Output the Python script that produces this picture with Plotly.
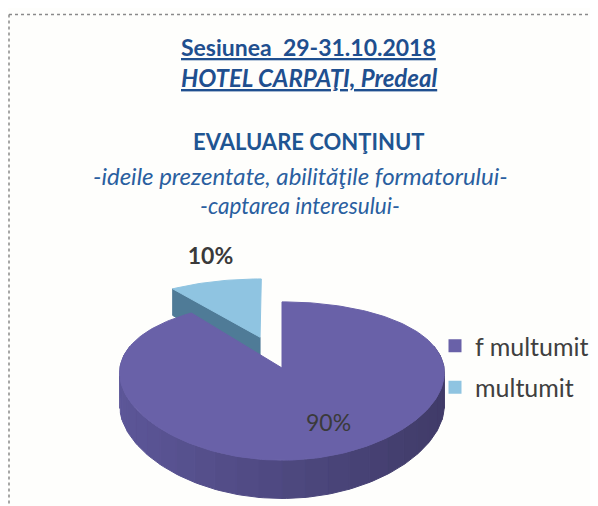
import numpy as np
import plotly.graph_objects as go

# ---------------- data ----------------
labels = ["f multumit", "multumit"]
values = [90, 10]

title_lines = [
    "Sesiunea  29-31.10.2018",
    "HOTEL CARPAŢI, Predeal",
    "EVALUARE CONŢINUT",
    "-ideile prezentate, abilităţile formatorului-",
    "-captarea interesului-",
]

# ---------------- style / geometry ----------------
W, H = 598, 506
OFF = 8  # page body margin of the browser
CX, CY, RX, RY, DEPTH = 282, 368, 162, 77, 32
DX_PERSP, DY_PERSP = 16.0, 6.08
EXPLODE = [0.0, 0.45]
TOP_COLORS = ["#6961a8", "#8fc4e1"]
SIDE_LIGHT = [(92, 86, 152), (86, 130, 160)]
SIDE_DARK = [(64, 59, 104), (74, 112, 140)]
CUT_COLORS = ["#4e4a86", "#4f7b97"]
LABEL_R = [0.70, 1.45]
LABEL_SHIFT = [(10, 0), (14, -2)]
FONT = "Lato"
BLUE = "#1f4f8f"
BG = "#fefefc"

total = float(sum(values))
fracs = [v / total for v in values]
bounds = np.concatenate([[0.0], np.cumsum(fracs)]) * 2 * np.pi

fig = go.Figure()


def proj(u, v, z=0.0):
    """project a point of the unit pie (u right, v toward viewer) to the page"""
    sx = DX_PERSP / (DX_PERSP - v)
    sy = DY_PERSP / (DY_PERSP - v)
    return CX + RX * u * sx, CY + RY * v * sy + z * sy


def pt(theta, eu, ev, r=1.0, z=0.0):
    u = eu + r * np.sin(theta)
    v = ev - r * np.cos(theta)
    return proj(u, v, z)


def rgb(c):
    return "rgb(%d,%d,%d)" % tuple(int(round(v)) for v in c)


def poly(xs, ys, color):
    xs, ys = list(xs), list(ys)
    fig.add_trace(go.Scatter(
        x=xs + [xs[0]], y=ys + [ys[0]], mode="lines", fill="toself",
        fillcolor=color, line=dict(color=color, width=1),
        hoverinfo="skip", showlegend=False))


slices = []
for i in range(len(values)):
    t0, t1 = bounds[i], bounds[i + 1]
    mid = 0.5 * (t0 + t1)
    eu = EXPLODE[i] * np.sin(mid)
    ev = -EXPLODE[i] * np.cos(mid)
    slices.append((i, t0, t1, mid, eu, ev))

# back-to-front ordering
order = sorted(slices, key=lambda s: s[5])
for (i, t0, t1, mid, eu, ev) in order:
    ax, ay = proj(eu, ev)
    bx, by = proj(eu, ev, DEPTH)
    # radial cut faces
    for t, vis in ((t0, np.sin(t0) < -1e-9), (t1, np.sin(t1) > 1e-9)):
        if vis:
            ex, ey = pt(t, eu, ev)
            fx, fy = pt(t, eu, ev, z=DEPTH)
            poly([ax, ex, fx, bx], [ay, ey, fy, by], CUT_COLORS[i])
    # outer rim (front half, slightly extended)
    a0, a1 = max(t0, np.pi / 2 - 0.3), min(t1, 3 * np.pi / 2 + 0.3)
    if a1 > a0:
        nseg = 28
        edges = np.linspace(a0, a1, nseg + 1)
        for k in range(nseg):
            th = np.linspace(edges[k], edges[k + 1], 6)
            xs, ys = pt(th, eu, ev)
            xb, yb = pt(th, eu, ev, z=DEPTH)
            f = np.clip((np.mean(xs) - (CX - RX)) / (2 * RX), 0, 1)
            c = [SIDE_LIGHT[i][j] * (1 - f) + SIDE_DARK[i][j] * f for j in range(3)]
            poly(list(xs) + list(xb[::-1]), list(ys) + list(yb[::-1]), rgb(c))
    # top face
    th = np.linspace(t0, t1, max(8, int(240 * (t1 - t0) / (2 * np.pi))))
    xs, ys = pt(th, eu, ev)
    poly([ax] + list(xs), [ay] + list(ys), TOP_COLORS[i])

# data labels
lx, ly, lt = [], [], []
for (i, t0, t1, mid, eu, ev) in slices:
    x, y = pt(mid, eu, ev, r=LABEL_R[i])
    lx.append(x + LABEL_SHIFT[i][0])
    ly.append(y + LABEL_SHIFT[i][1])
    pct = "%d%%" % round(fracs[i] * 100)
    lt.append("<b>%s</b>" % pct if EXPLODE[i] > 0 else pct)
fig.add_trace(go.Scatter(x=lx, y=ly, mode="text", text=lt,
                         textfont=dict(family=FONT, size=23, color="#3a3a3a"),
                         hoverinfo="skip", showlegend=False))

# legend entries
for i, lab in enumerate(labels):
    fig.add_trace(go.Scatter(x=[None], y=[None], mode="markers", name=lab,
                             legendgroup=lab,
                             marker=dict(symbol="square", size=13, color=TOP_COLORS[i])))

# titles
title_specs = [
    (title_lines[0], 308, 47, 23, "bold", "normal", BLUE, "under"),
    (title_lines[1], 309, 77, 24, "bold", "italic", BLUE, "under"),
    (title_lines[2], 308, 141, 22, "bold", "normal", "#1f5592", "none"),
    (title_lines[3], 300, 175, 24, "normal", "italic", "#2a5fa0", "none"),
    (title_lines[4], 300, 205, 22.5, "normal", "italic", "#2a5fa0", "none"),
]
anns = []
for txt, x, y, sz, wt, st, col, lp in title_specs:
    anns.append(dict(x=x, y=y, xref="x", yref="y", text=txt, showarrow=False,
                     xanchor="center", yanchor="middle",
                     font=dict(family=FONT, size=sz, color=col, weight=wt,
                               style=st, lineposition=lp)))

shapes = [
    dict(type="line", x0=9, y0=14.5, x1=W, y1=14.5, xref="x", yref="y",
         line=dict(color="#8a8a8a", width=1.5, dash="dot")),
    dict(type="line", x0=9, y0=14.5, x1=9, y1=H, xref="x", yref="y",
         line=dict(color="#8a8a8a", width=1.5, dash="dot")),
]

LW, LH = W - OFF, H - OFF
fig.update_layout(
    width=LW, height=LH, autosize=False,
    margin=dict(l=0, r=0, t=0, b=0),
    paper_bgcolor=BG, plot_bgcolor=BG,
    xaxis=dict(range=[OFF, W], visible=False, fixedrange=True),
    yaxis=dict(range=[H, OFF], visible=False, fixedrange=True),
    showlegend=True,
    legend=dict(x=(435 - OFF) / LW, y=1 - (323 - OFF) / LH, xanchor="left", yanchor="top",
                bgcolor="rgba(0,0,0,0)", traceorder="grouped", tracegroupgap=6,
                font=dict(family=FONT, size=25, color="#404040"),
                itemwidth=30),
    annotations=anns,
    shapes=shapes,
)

fig.write_html("out.html")
